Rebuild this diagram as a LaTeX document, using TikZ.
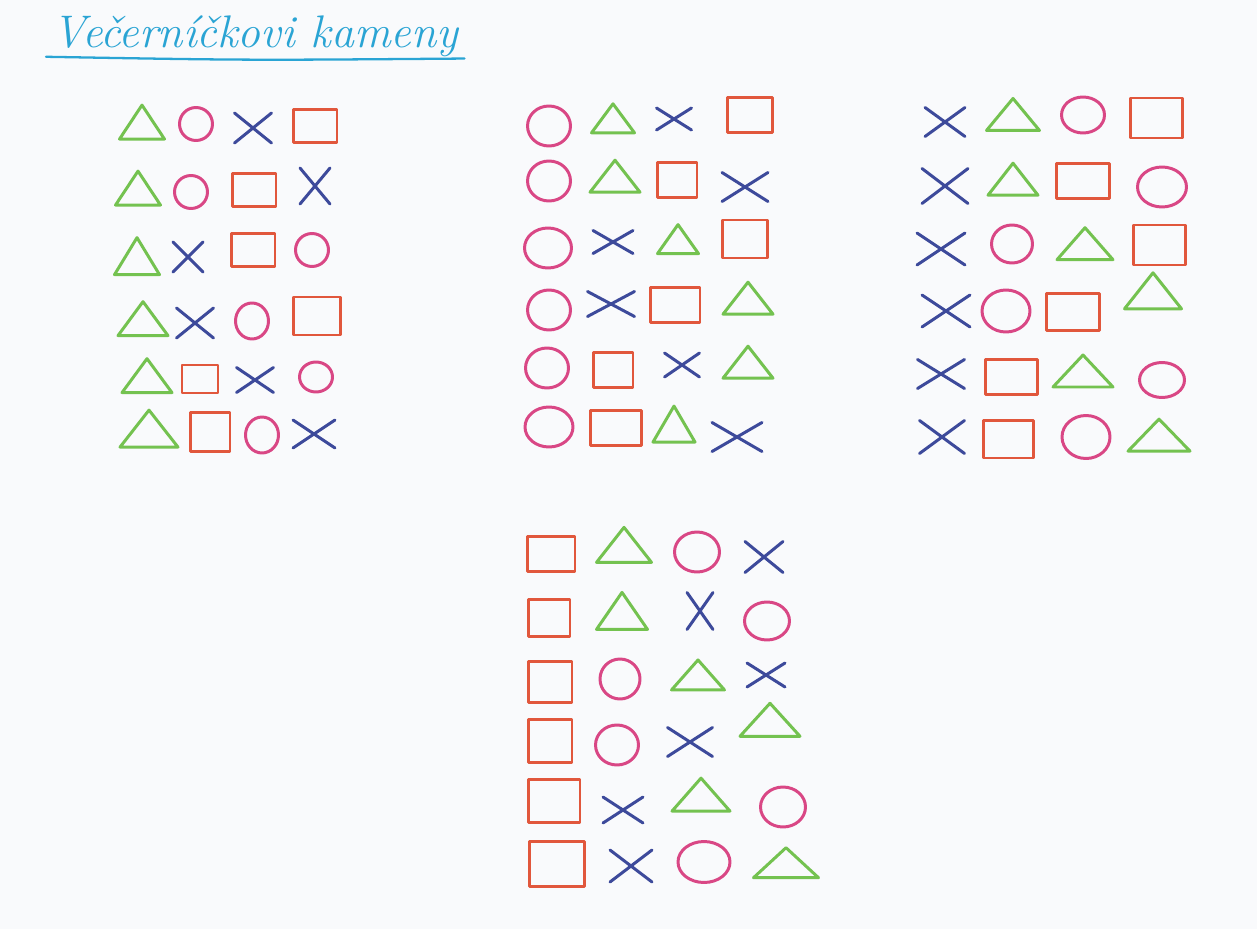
\documentclass[tikz,border=0pt]{standalone}
\usepackage{fontspec}
\usepackage{xcolor}
\usetikzlibrary{shapes.geometric,shapes.misc}
\definecolor{paper}{HTML}{F9FAFC}
\definecolor{leaf}{HTML}{74C250}
\definecolor{rose}{HTML}{D94785}
\definecolor{navy}{HTML}{3D4A9B}
\definecolor{brick}{HTML}{E1573C}
\definecolor{sky}{HTML}{2AA4D4}

\begin{document}
\begin{tikzpicture}[
  x=0.02cm,y=-0.02cm,
  sym/.style={draw,line width=1.7pt,line cap=round,line join=round,inner sep=0pt,outer sep=0pt},
  tri/.style={sym,draw=leaf,isosceles triangle,shape border rotate=90,isosceles triangle stretches,minimum width=1.0cm,minimum height=0.64cm},
  circ/.style={sym,draw=rose,ellipse,minimum width=0.86cm,minimum height=0.8cm},
  cross/.style={sym,draw=navy,cross out,minimum width=0.8cm,minimum height=0.58cm},
  box/.style={sym,draw=brick,rectangle,minimum width=0.9cm,minimum height=0.7cm}
]
\fill[paper] (0,0) rectangle (1257,929);
\useasboundingbox (0,0) rectangle (1257,929);

\node[text=sky,anchor=base west,font=\fontsize{26}{30}\selectfont\itshape] (title) at (46,48) {Večerníčkovi kameny};
\draw[sky,line width=1.3pt,line cap=round] ([yshift=-5pt]title.base west) .. controls ([xshift=4cm,yshift=-7pt]title.base west) .. ([yshift=-6pt]title.base east);

\begin{scope}[tri/.append style={minimum width=0.9cm,minimum height=0.68cm},
  circ/.append style={minimum width=0.66cm,minimum height=0.66cm},
  cross/.append style={minimum width=0.74cm,minimum height=0.6cm},
  box/.append style={minimum width=0.88cm,minimum height=0.66cm}]
\node[tri] (a1tri) at (142,127) {};
\node[circ] (a1circ) at (196,124) {};
\node[cross] (a1x) at (253,128) {};
\node[box] (a1box) at (315,126) {};
\node[tri] (a2tri) at (138,193) {};
\node[circ] (a2circ) at (191,192) {};
\node[box] (a2box) at (254,190) {};
\node[cross,minimum width=0.6cm,minimum height=0.72cm] (a2x) at (315,186) {};
\node[tri,minimum height=0.74cm] (a3tri) at (137,262) {};
\node[cross,minimum width=0.6cm] (a3x) at (188,257) {};
\node[box] (a3box) at (253,250) {};
\node[circ] (a3circ) at (312,250) {};
\node[tri,minimum width=1.0cm] (a4tri) at (143,323) {};
\node[cross] (a4x) at (195,323) {};
\node[circ,minimum height=0.72cm] (a4circ) at (252,321) {};
\node[box,minimum width=0.94cm,minimum height=0.76cm] (a4box) at (317,316) {};
\node[tri,minimum width=1.0cm] (a5tri) at (147,380) {};
\node[box,minimum width=0.72cm,minimum height=0.56cm] (a5box) at (200,379) {};
\node[cross,minimum height=0.5cm] (a5x) at (255,380) {};
\node[circ,minimum height=0.6cm] (a5circ) at (316,377) {};
\node[tri,minimum width=1.16cm,minimum height=0.74cm] (a6tri) at (149,433) {};
\node[box,minimum width=0.8cm,minimum height=0.78cm] (a6box) at (210,432) {};
\node[circ,minimum height=0.72cm] (a6circ) at (262,435) {};
\node[cross,minimum width=0.84cm,minimum height=0.56cm] (a6x) at (314,434) {};
\end{scope}

\node[circ] (b1circ) at (549,126) {};
\node[tri,minimum width=0.86cm,minimum height=0.58cm] (b1tri) at (613,122) {};
\node[cross,minimum width=0.7cm,minimum height=0.44cm] (b1x) at (674,119) {};
\node[box] (b1box) at (750,115) {};
\node[circ] (b2circ) at (549,181) {};
\node[tri] (b2tri) at (615,180) {};
\node[box,minimum width=0.8cm] (b2box) at (677,180) {};
\node[cross,minimum width=0.92cm] (b2x) at (745,187) {};
\node[circ,minimum width=0.94cm] (b3circ) at (548,248) {};
\node[cross,minimum height=0.46cm] (b3x) at (613,242) {};
\node[tri,minimum width=0.82cm,minimum height=0.58cm] (b3tri) at (678,243) {};
\node[box,minimum height=0.76cm] (b3box) at (745,239) {};
\node[circ] (b4circ) at (549,310) {};
\node[cross,minimum width=0.94cm,minimum height=0.5cm] (b4x) at (611,304) {};
\node[box,minimum width=1.0cm] (b4box) at (675,305) {};
\node[tri] (b4tri) at (748,302) {};
\node[circ] (b5circ) at (547,368) {};
\node[box,minimum width=0.8cm] (b5box) at (613,370) {};
\node[cross,minimum width=0.7cm,minimum height=0.48cm] (b5x) at (682,365) {};
\node[tri] (b5tri) at (748,366) {};
\node[circ,minimum width=0.96cm] (b6circ) at (549,427) {};
\node[box,minimum width=1.02cm] (b6box) at (616,428) {};
\node[tri,minimum width=0.84cm,minimum height=0.72cm] (b6tri) at (674,430) {};
\node[cross,minimum width=1.0cm] (b6x) at (737,437) {};

\node[cross,minimum width=0.8cm] (c1x) at (945,122) {};
\node[tri,minimum width=1.06cm] (c1tri) at (1013,118) {};
\node[circ,minimum width=0.86cm,minimum height=0.72cm] (c1circ) at (1083,115) {};
\node[box,minimum width=1.04cm,minimum height=0.8cm] (c1box) at (1156,118) {};
\node[cross,minimum width=0.92cm,minimum height=0.7cm] (c2x) at (945,186) {};
\node[tri] (c2tri) at (1013,183) {};
\node[box,minimum width=1.06cm] (c2box) at (1083,181) {};
\node[circ,minimum width=0.98cm] (c2circ) at (1162,187) {};
\node[cross,minimum width=0.96cm,minimum height=0.64cm] (c3x) at (941,249) {};
\node[circ,minimum width=0.82cm,minimum height=0.76cm] (c3circ) at (1012,244) {};
\node[tri,minimum width=1.12cm] (c3tri) at (1085,247) {};
\node[box,minimum width=1.04cm,minimum height=0.8cm] (c3box) at (1159,245) {};
\node[cross,minimum width=0.96cm,minimum height=0.64cm] (c4x) at (946,311) {};
\node[circ,minimum width=0.96cm,minimum height=0.84cm] (c4circ) at (1006,311) {};
\node[box,minimum width=1.06cm,minimum height=0.74cm] (c4box) at (1073,312) {};
\node[tri,minimum width=1.14cm,minimum height=0.72cm] (c4tri) at (1153,295) {};
\node[cross,minimum width=0.94cm] (c5x) at (941,374) {};
\node[box,minimum width=1.04cm] (c5box) at (1011,377) {};
\node[tri,minimum width=1.2cm] (c5tri) at (1083,374) {};
\node[circ,minimum width=0.9cm,minimum height=0.7cm] (c5circ) at (1162,380) {};
\node[cross,minimum width=0.9cm,minimum height=0.66cm] (c6x) at (942,437) {};
\node[box,minimum width=1.0cm,minimum height=0.76cm] (c6box) at (1008,439) {};
\node[circ,minimum width=0.96cm,minimum height=0.86cm] (c6circ) at (1086,437) {};
\node[tri,minimum width=1.24cm] (c6tri) at (1159,438) {};

\node[box,minimum width=0.96cm] (d1box) at (551,554) {};
\node[tri,minimum width=1.1cm,minimum height=0.7cm] (d1tri) at (624,549) {};
\node[circ,minimum width=0.9cm] (d1circ) at (697,552) {};
\node[cross,minimum width=0.76cm,minimum height=0.62cm] (d1x) at (764,557) {};
\node[box,minimum width=0.84cm,minimum height=0.74cm] (d2box) at (549,618) {};
\node[tri,minimum width=1.02cm,minimum height=0.74cm] (d2tri) at (622,616) {};
\node[cross,minimum width=0.52cm,minimum height=0.74cm] (d2x) at (700,611) {};
\node[circ,minimum width=0.9cm,minimum height=0.76cm] (d2circ) at (767,621) {};
\node[box,minimum width=0.88cm,minimum height=0.82cm] (d3box) at (550,682) {};
\node[circ,minimum width=0.8cm] (d3circ) at (620,679) {};
\node[tri,minimum width=1.06cm,minimum height=0.6cm] (d3tri) at (698,678) {};
\node[cross,minimum width=0.76cm,minimum height=0.48cm] (d3x) at (766,675) {};
\node[box,minimum width=0.88cm,minimum height=0.86cm] (d4box) at (550,741) {};
\node[circ,minimum width=0.86cm] (d4circ) at (617,745) {};
\node[cross,minimum width=0.9cm] (d4x) at (690,742) {};
\node[tri,minimum width=1.2cm,minimum height=0.66cm] (d4tri) at (770,723) {};
\node[box,minimum width=1.04cm,minimum height=0.86cm] (d5box) at (554,801) {};
\node[cross,minimum width=0.8cm,minimum height=0.52cm] (d5x) at (623,810) {};
\node[tri,minimum width=1.16cm,minimum height=0.66cm] (d5tri) at (701,798) {};
\node[circ,minimum width=0.9cm] (d5circ) at (783,807) {};
\node[box,minimum width=1.1cm,minimum height=0.9cm] (d6box) at (557,864) {};
\node[cross,minimum width=0.84cm,minimum height=0.64cm] (d6x) at (631,866) {};
\node[circ,minimum width=1.04cm,minimum height=0.82cm] (d6circ) at (704,862) {};
\node[tri,minimum width=1.3cm,minimum height=0.6cm] (d6tri) at (786,865) {};
\end{tikzpicture}
\end{document}
